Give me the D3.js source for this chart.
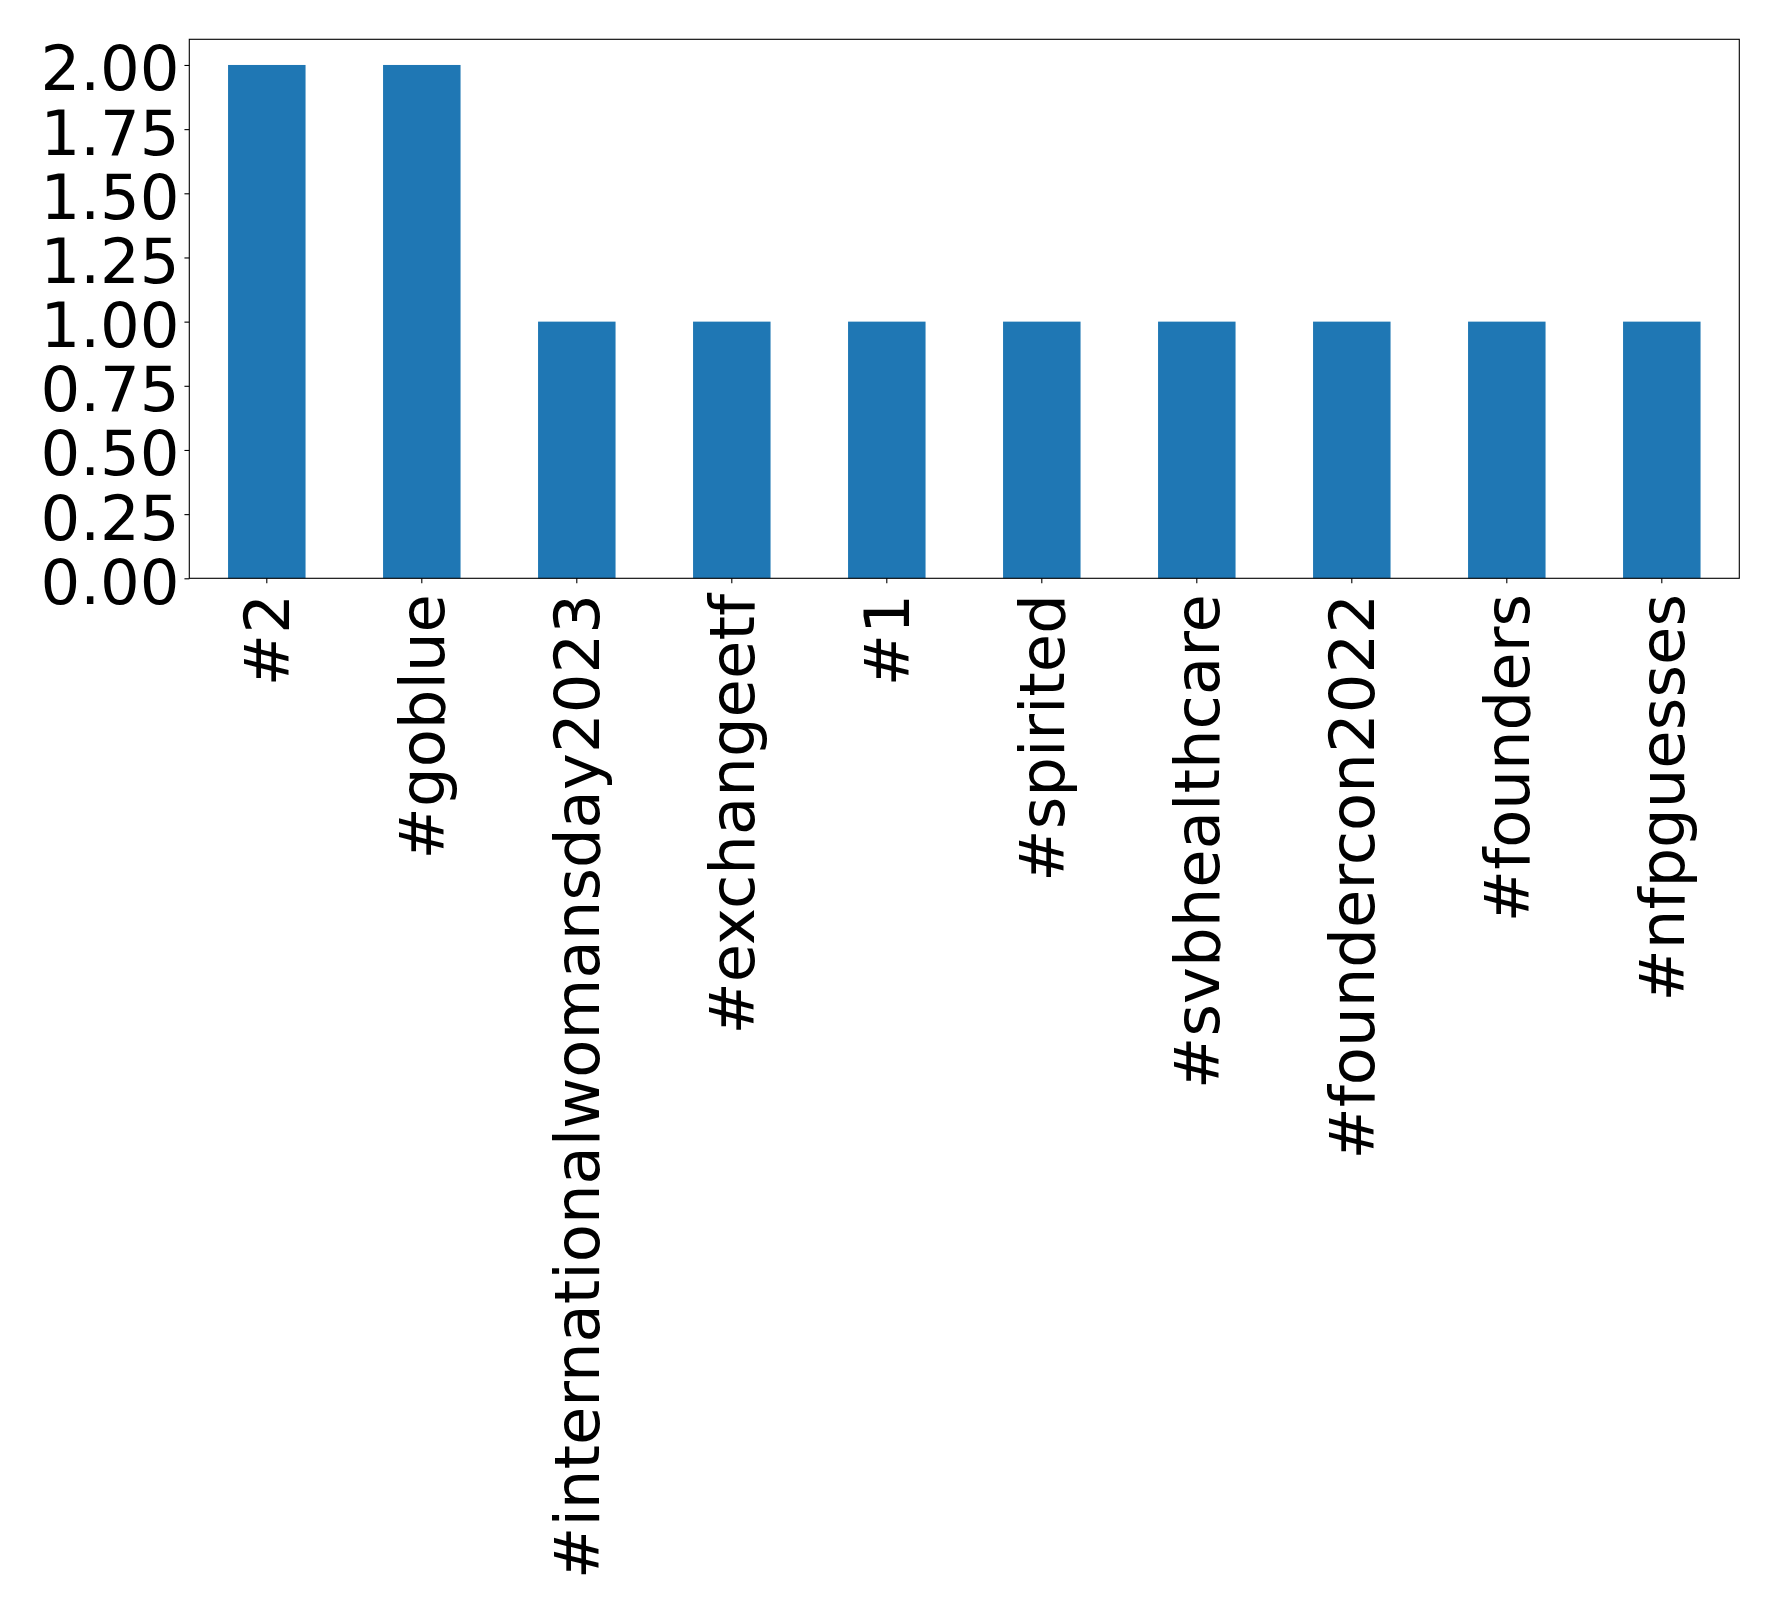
<!DOCTYPE html>
<html>
<head>
<meta charset="utf-8">
<script src="https://cdn.jsdelivr.net/npm/d3@7"></script>
<style>
  html, body { margin: 0; padding: 0; background: #fff; }
  svg { display: block; }
  text { font-family: "DejaVu Sans", sans-serif; fill: #000; }
</style>
</head>
<body>
<svg id="chart" width="1778" height="1612"></svg>
<script>
const categories = ["#2", "#goblue", "#internationalwomansday2023", "#exchangeetf", "#1", "#spirited", "#svbhealthcare", "#foundercon2022", "#founders", "#nfpguesses"];
const values = [2, 2, 1, 1, 1, 1, 1, 1, 1, 1];
const yTicks = [0, 0.25, 0.5, 0.75, 1.0, 1.25, 1.5, 1.75, 2.0];

const plotL = 189.3, plotR = 1739.3, plotT = 39.3, plotB = 578.3;
const fontPx = 62.5;
const tickLen = 4.86, tickPad = 4.86, lw = 1.11;

const svg = d3.select("#chart");

const x = d3.scaleBand().domain(categories).range([plotL, plotR]).paddingInner(0).paddingOuter(0);
const y = d3.scaleLinear().domain([0, 2.1]).range([plotB, plotT]);

// bars
svg.append("g").selectAll("rect").data(values).join("rect")
  .attr("x", (d, i) => x(categories[i]) + x.bandwidth() * 0.25)
  .attr("width", x.bandwidth() * 0.5)
  .attr("y", d => y(d))
  .attr("height", d => y(0) - y(d))
  .attr("fill", "#1f77b4");

// y axis
const yAxis = d3.axisLeft(y).tickValues(yTicks).tickSize(tickLen).tickPadding(tickPad)
  .tickFormat(d3.format(".2f"));
const gy = svg.append("g").attr("transform", `translate(${plotL},0)`).call(yAxis);
gy.select(".domain").remove();
gy.selectAll(".tick line").attr("stroke", "#000").attr("stroke-width", lw);
gy.selectAll(".tick text")
  .attr("font-size", fontPx)
  .attr("font-family", "DejaVu Sans")
  .attr("dy", "0.40em")
  .attr("fill", "#000");

// x axis
const xAxis = d3.axisBottom(x).tickSize(tickLen).tickPadding(tickPad);
const gx = svg.append("g").attr("transform", `translate(0,${plotB})`).call(xAxis);
gx.select(".domain").remove();
gx.selectAll(".tick line").attr("stroke", "#000").attr("stroke-width", lw);
gx.selectAll(".tick text")
  .attr("font-size", fontPx)
  .attr("font-family", "DejaVu Sans")
  .attr("text-anchor", "end")
  .attr("transform", `translate(0,${tickLen + tickPad + 6}) rotate(-90)`)
  .attr("x", 0)
  .attr("y", 0)
  .attr("dy", "0.363em")
  .attr("fill", "#000");

// frame
svg.append("rect")
  .attr("x", plotL).attr("y", plotT)
  .attr("width", plotR - plotL).attr("height", plotB - plotT)
  .attr("fill", "none").attr("stroke", "#000").attr("stroke-width", lw);
</script>
</body>
</html>
